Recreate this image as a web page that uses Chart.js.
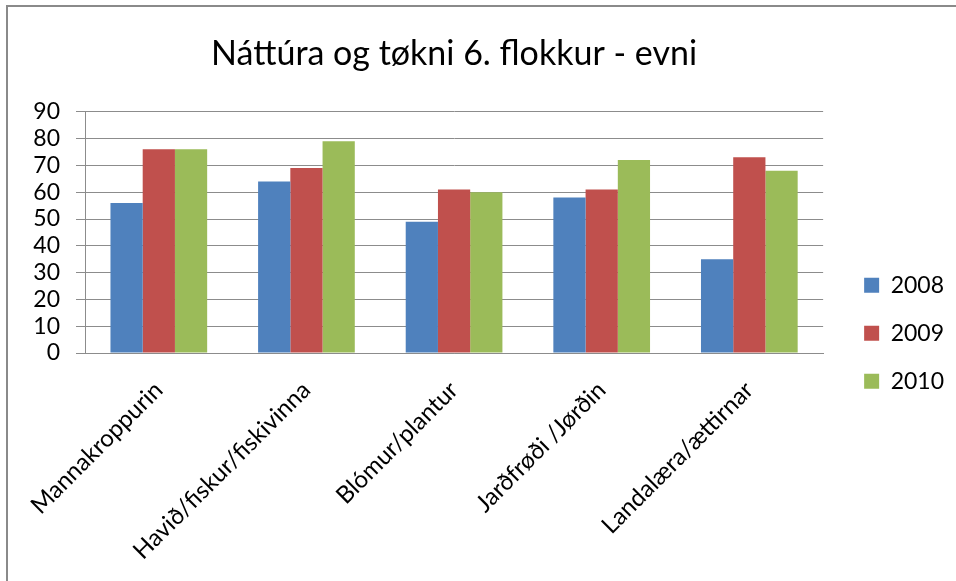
<!DOCTYPE html>
<html>
<head>
<meta charset="utf-8">
<script src="https://cdn.jsdelivr.net/npm/chart.js@4.4.0/dist/chart.umd.min.js"></script>
<style>
html, body { margin: 0; padding: 0; background: #fff; overflow: hidden; }
#ramme {
    position: absolute; left: 6px; top: 5px;
    width: 948px; height: 574px;
    border-left: 2px solid #8a8a8a; border-top: 2px solid #8a8a8a;
}
</style>
</head>
<body>
<div id="ramme"><canvas id="diagram" width="948" height="574"></canvas></div>
<script>
// Dátur
var evni = ['Mannakroppurin', 'Havið/fiskur/fiskivinna', 'Blómur/plantur', 'Jarðfrøði /Jørðin', 'Landalæra/ættirnar'];
var aarini = ['2008', '2009', '2010'];
var virdi2008 = [56, 64, 49, 58, 35];
var virdi2009 = [76, 69, 61, 61, 73];
var virdi2010 = [76, 79, 60, 72, 68];
var yTicks = [0, 10, 20, 30, 40, 50, 60, 70, 80, 90];

var litir = ['#4F81BD', '#C0504D', '#9BBB59'];
var skrift = 'Lato, "Open Sans", sans-serif';
var gratt = '#8c8c8c';

var ctx = document.getElementById('diagram').getContext('2d');
var diagram = new Chart(ctx, {
    type: 'bar',
    data: {
        labels: evni,
        datasets: [
            { label: aarini[0], data: virdi2008, backgroundColor: litir[0] },
            { label: aarini[1], data: virdi2009, backgroundColor: litir[1] },
            { label: aarini[2], data: virdi2010, backgroundColor: litir[2] }
        ]
    },
    options: {
        responsive: false,
        animation: false,
        categoryPercentage: 0.655,
        barPercentage: 1.0,
        layout: { padding: { left: 0, right: 2, top: 0, bottom: 0 } },
        plugins: {
            title: {
                display: true,
                text: 'Náttúra og tøkni 6. flokkur - evni',
                color: '#000',
                fullSize: false,
                font: { family: skrift, size: 34, weight: 'normal' },
                padding: { top: 27, bottom: 37 }
            },
            legend: {
                position: 'right',
                title: { display: true, text: '', font: { size: 12 }, padding: { top: 64, bottom: 0 } },
                labels: {
                    boxWidth: 15,
                    boxHeight: 15,
                    padding: 25,
                    color: '#000',
                    font: { family: skrift, size: 23 }
                }
            },
            tooltip: { enabled: false }
        },
        scales: {
            x: {
                grid: { display: false },
                border: { display: true, color: gratt, width: 1 },
                ticks: {
                    autoSkip: false,
                    minRotation: 45,
                    maxRotation: 45,
                    padding: 15,
                    color: '#000',
                    font: { family: skrift, size: 24 }
                },
                afterFit: function(scale) { scale.height = 574 - 346; }
            },
            y: {
                min: 0,
                max: 90,
                afterBuildTicks: function(scale) {
                    scale.ticks = yTicks.map(function(v) { return { value: v }; });
                },
                grid: { color: gratt, tickLength: 9 },
                border: { display: true, color: gratt, width: 1 },
                ticks: {
                    autoSkip: false,
                    color: '#000',
                    padding: 16,
                    font: { family: skrift, size: 23 }
                },
                afterFit: function(scale) { scale.width = 77; }
            },
            bil: {
                position: 'right',
                display: true,
                grid: { display: false },
                border: { display: false },
                ticks: { display: false },
                afterFit: function(scale) { scale.width = 16; }
            }
        }
    }
});
</script>
</body>
</html>
